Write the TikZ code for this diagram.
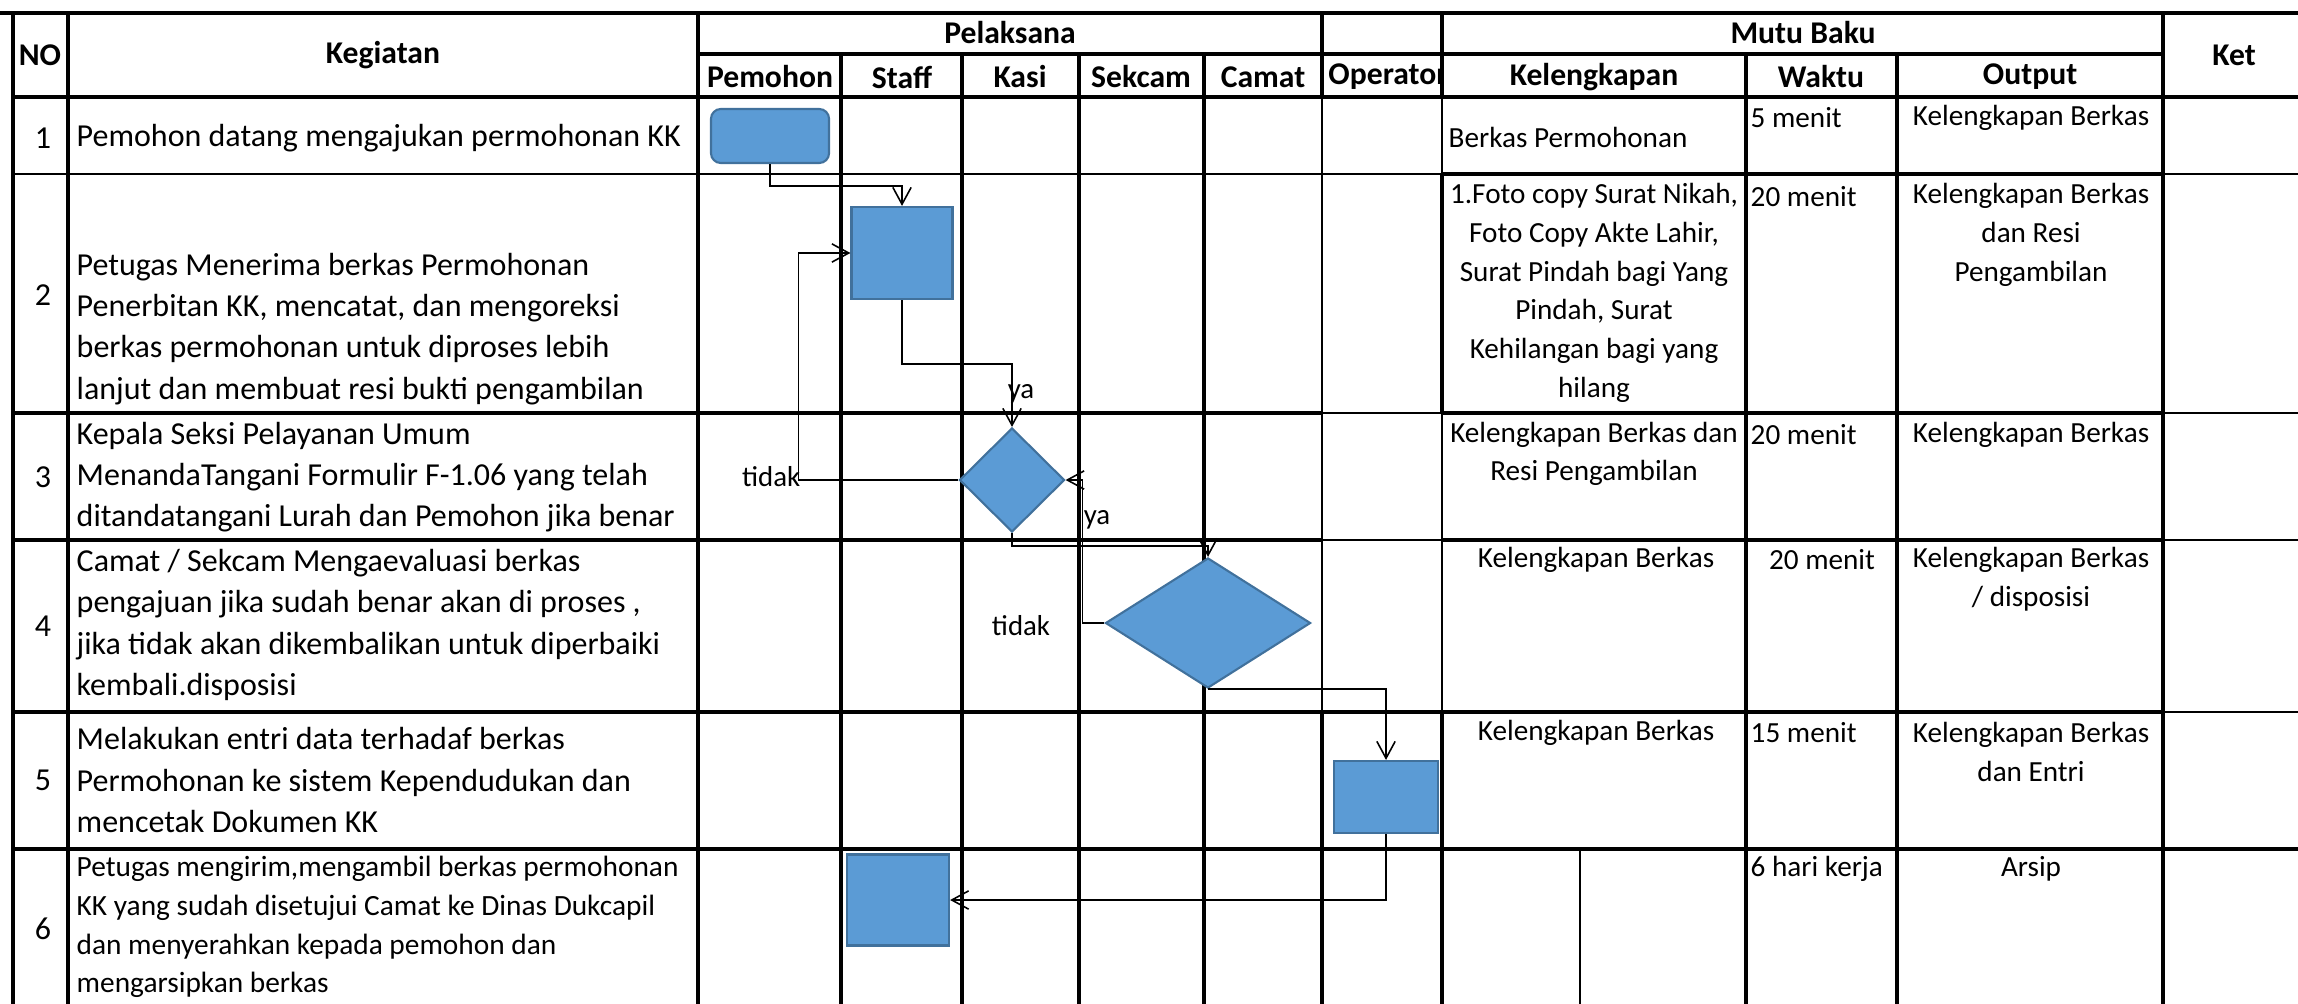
\documentclass[tikz,border=0pt]{standalone}
\usepackage{fontspec}
\setmainfont{Carlito}
\usetikzlibrary{arrows.meta, shapes.geometric}
\definecolor{boxblue}{RGB}{91, 155, 213}
\definecolor{boxedge}{RGB}{65, 113, 156}

\begin{document}
\begin{tikzpicture}[
  x=0.01cm, y=-0.01cm,
  every node/.style={inner sep=0pt},
  hdr/.style={font=\bfseries\fontsize{9}{11}\selectfont},
  num/.style={font=\fontsize{9.1}{11.7}\selectfont},
  keg/.style={anchor=west, align=left, font=\fontsize{9.1}{11.7}\selectfont},
  kegsmall/.style={keg, font=\fontsize{8.35}{11}\selectfont},
  mutu/.style={align=center, font=\fontsize{8.3}{11}\selectfont},
  mutuleft/.style={mutu, anchor=west, align=left},
  lbl/.style={font=\fontsize{8.2}{10}\selectfont},
  gridthick/.style={line width=1.3pt},
  gridthin/.style={line width=0.6pt},
  startbox/.style={draw=boxedge, fill=boxblue, line width=0.6pt, rounded corners=2.8pt},
  procbox/.style={draw=boxedge, fill=boxblue, line width=0.6pt},
  decbox/.style={diamond, draw=boxedge, fill=boxblue, line width=0.6pt},
  arr/.style={-{Straight Barb[length=4.8pt, width=5.2pt]}, line width=0.45pt}
]
  \useasboundingbox (0,0) rectangle (2298,1003);
  \clip (0,0) rectangle (2298,1003);

  % Header
  \node[hdr] (hNo) at (40, 55)     {NO};
  \node[hdr] (hKeg) at (383, 55)   {Kegiatan};
  \node[hdr] (hPel) at (1010, 33)  {Pelaksana};
  \node[hdr] (hMutu) at (1803, 33) {Mutu Baku};
  \node[hdr] (hKet) at (2234, 55)  {Ket};

  \node[hdr] (hPem) at (770, 77)   {Pemohon};
  \node[hdr] (hStf) at (902, 77)   {Staff};
  \node[hdr] (hKas) at (1020, 77)  {Kasi};
  \node[hdr] (hSek) at (1141, 77)  {Sekcam};
  \node[hdr] (hCam) at (1263, 77)  {Camat};
  \begin{scope}
    \clip (1322, 54) rectangle (1442, 97);
    \node[hdr] (hOpr) at (1388, 77)  {Operator};
  \end{scope}
  \node[hdr] (hKel) at (1594, 77)  {Kelengkapan};
  \node[hdr] (hWak) at (1821, 77)  {Waktu};
  \node[hdr] (hOut) at (2030, 77)  {Output};

  % Kegiatan column
  \node[num] (n1) at (43, 138) {1};
  \node[num] (n2) at (43, 295) {2};
  \node[num] (n3) at (43, 477) {3};
  \node[num] (n4) at (43, 626) {4};
  \node[num] (n5) at (43, 780) {5};
  \node[num] (n6) at (43, 929) {6};

  \node[keg] (k1) at (76, 138) {Pemohon datang mengajukan permohonan KK};
  \node[keg] (k2) at (76, 329) {Petugas Menerima berkas Permohonan\\Penerbitan KK, mencatat, dan mengoreksi\\berkas permohonan untuk diproses lebih\\lanjut dan membuat resi bukti pengambilan};
  \node[keg] (k3) at (76, 477) {Kepala Seksi Pelayanan Umum\\MenandaTangani Formulir F-1.06 yang telah\\ditandatangani Lurah dan Pemohon jika benar};
  \node[keg] (k4) at (76, 625) {Camat / Sekcam Mengaevaluasi berkas\\pengajuan jika sudah benar akan di proses ,\\jika tidak akan dikembalikan untuk diperbaiki\\kembali.disposisi};
  \node[keg] (k5) at (76, 780) {Melakukan entri data terhadaf berkas\\Permohonan ke sistem Kependudukan dan\\mencetak Dokumen KK};
  \node[kegsmall] (k6) at (76, 927) {Petugas mengirim,mengambil berkas permohonan\\KK yang sudah disetujui Camat ke Dinas Dukcapil\\dan menyerahkan kepada pemohon dan\\mengarsipkan berkas};

  % Mutu Baku columns
  \node[mutuleft] (kel1) at (1448, 137) {Berkas Permohonan};
  \node[mutuleft] (wak1) at (1750, 118) {5 menit};
  \node[mutu] (out1) at (2031, 118)     {Kelengkapan Berkas};

  \node[mutu] (kel2) at (1594, 293)     {1.Foto copy Surat Nikah,\\Foto Copy Akte Lahir,\\Surat Pindah bagi Yang\\Pindah, Surat\\Kehilangan bagi yang\\hilang};
  \node[mutuleft] (wak2) at (1750, 197) {20 menit};
  \node[mutu] (out2) at (2031, 235)     {Kelengkapan Berkas\\dan Resi\\Pengambilan};

  \node[mutu] (kel3) at (1594, 454)     {Kelengkapan Berkas dan\\Resi Pengambilan};
  \node[mutuleft] (wak3) at (1750, 435) {20 menit};
  \node[mutu] (out3) at (2031, 435)     {Kelengkapan Berkas};

  \node[mutu] (kel4) at (1596, 560)     {Kelengkapan Berkas};
  \node[mutu] (wak4) at (1822, 560)     {20 menit};
  \node[mutu] (out4) at (2031, 579)     {Kelengkapan Berkas\\/ disposisi};

  \node[mutu] (kel5) at (1596, 733)     {Kelengkapan Berkas};
  \node[mutuleft] (wak5) at (1750, 733) {15 menit};
  \node[mutu] (out5) at (2031, 752)     {Kelengkapan Berkas\\dan Entri};

  \node[mutuleft] (wak6) at (1750, 869) {6 hari kerja};
  \node[mutu] (out6) at (2031, 869)     {Arsip};

  % Table rules
  \draw[gridthick] (0, 13) -- (2310, 13);
  \draw[gridthick] (698, 54) -- (2163, 54);
  \draw[gridthick] (13, 97) -- (2310, 97);
  \draw[gridthin]  (13, 174) -- (1442, 174);
  \draw[gridthick] (1442, 174) -- (2163, 174);
  \draw[gridthin]  (2163, 174) -- (2310, 174);
  \draw[gridthick] (13, 413) -- (1322, 413);
  \draw[gridthin]  (1322, 413) -- (1442, 413);
  \draw[gridthick] (1442, 413) -- (2163, 413);
  \draw[gridthin]  (2163, 413) -- (2310, 413);
  \draw[gridthick] (13, 540) -- (1322, 540);
  \draw[gridthin]  (1322, 540) -- (1442, 540);
  \draw[gridthick] (1442, 540) -- (2163, 540);
  \draw[gridthin]  (2163, 540) -- (2310, 540);
  \draw[gridthick] (13, 712) -- (2163, 712);
  \draw[gridthin]  (2163, 712) -- (2310, 712);
  \draw[gridthick] (13, 849) -- (2310, 849);

  \draw[gridthick] (13, 13) -- (13, 1010);
  \draw[gridthick] (68, 13) -- (68, 1010);
  \draw[gridthick] (698, 13) -- (698, 1010);
  \draw[gridthick] (841, 54) -- (841, 1010);
  \draw[gridthick] (962, 54) -- (962, 1010);
  \draw[gridthick] (1079, 54) -- (1079, 1010);
  \draw[gridthick] (1204, 54) -- (1204, 1010);
  \draw[gridthick] (1322, 13) -- (1322, 97);
  \draw[gridthin]  (1322, 97) -- (1322, 712);
  \draw[gridthick] (1322, 712) -- (1322, 1010);
  \draw[gridthick] (1442, 13) -- (1442, 97);
  \draw[gridthin]  (1442, 97) -- (1442, 174);
  \draw[gridthick] (1442, 174) -- (1442, 413);
  \draw[gridthin]  (1442, 413) -- (1442, 712);
  \draw[gridthick] (1442, 712) -- (1442, 1010);
  \draw[gridthick] (1746, 54) -- (1746, 1010);
  \draw[gridthick] (1897, 54) -- (1897, 1010);
  \draw[gridthick] (2163, 13) -- (2163, 1010);
  \draw[gridthin]  (1580, 849) -- (1580, 1010);

  % Flow shapes
  \node[startbox, minimum width=1.18cm, minimum height=0.54cm] (startA) at (770, 136) {};
  \node[procbox, minimum width=1.01cm, minimum height=0.92cm] (staffA) at (902, 253) {};
  \node[decbox, minimum width=1.05cm, minimum height=1.04cm] (kasiD) at (1012, 480) {};
  \node[decbox, minimum width=2.05cm, minimum height=1.30cm] (camatD) at (1208, 623) {};
  \node[procbox, minimum width=1.04cm, minimum height=0.72cm] (opr) at (1386, 797) {};
  \node[procbox, minimum width=1.02cm, minimum height=0.91cm] (staffB) at (898, 900) {};

  % Flow connectors
  \draw[arr] (startA.south) -- ++(0, 22) -| (staffA.north);
  \draw[arr] (staffA.south) -- ++(0, 64) -| (kasiD.north);
  \draw[arr] (kasiD.west) -- ++(-160, 0) |- (staffA.west);
  \draw[arr] (kasiD.south) -- ++(0, 13) -| (camatD.north);
  \draw[arr] (camatD.west) -- ++(-22, 0) |- (kasiD.east);
  \draw[arr] (camatD.south) -| (opr.north);
  \draw[arr] (opr.south) |- (staffB.east);

  \node[lbl] (ya1) at (1021, 394)              {ya};
  \node[lbl, anchor=east] (tidak1) at (801, 477) {tidak};
  \node[lbl] (ya2) at (1097, 520)              {ya};
  \node[lbl] (tidak2) at (1021, 626)           {tidak};

\end{tikzpicture}
\end{document}
